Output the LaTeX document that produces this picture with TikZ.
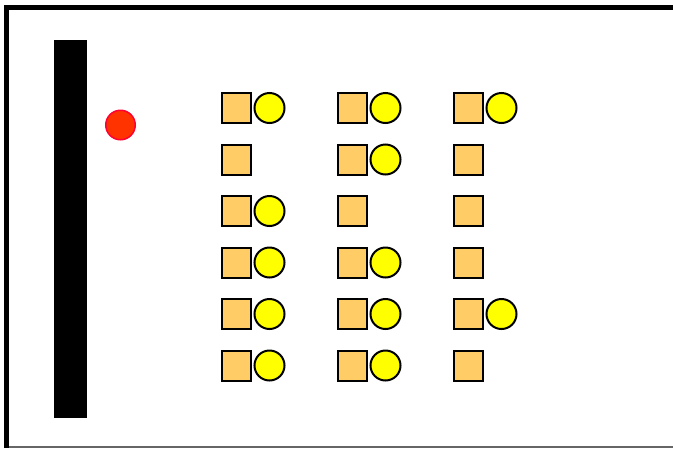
\documentclass[tikz,border=0pt]{standalone}
\definecolor{seat}{HTML}{FFCC66}
\definecolor{person}{HTML}{FFFF00}
\definecolor{teach}{HTML}{FF3300}
\definecolor{teachb}{HTML}{FF0033}
\tikzset{
  seatbox/.style={draw=black, fill=seat, line width=2pt, minimum width=29pt, minimum height=30pt, inner sep=0pt},
  pupil/.style={circle, draw=black, fill=person, line width=2pt, minimum size=30pt, inner sep=0pt},
  teacher/.style={circle, draw=teachb, fill=teach, line width=1.5pt, minimum size=29.5pt, inner sep=0pt},
  board/.style={fill=black, minimum width=33pt, minimum height=378pt, inner sep=0pt},
}
\begin{document}
\begin{tikzpicture}[x=1pt,y=-1pt]
\useasboundingbox (0,0) rectangle (673,448);
\fill[white] (0,0) rectangle (673,448);
% frame
\draw[line width=1.5pt, gray!80!black] (9,446.8) -- (673,446.8);
\draw[line width=5pt] (6.5,447.5) -- (6.5,7.5) -- (690,7.5);
% board
\node[board] (board) at (70.5,229) {};
% teacher
\node[teacher] (teacher) at (120.5,125) {};
% seats
\foreach \c/\x in {1/236.5, 2/352.5, 3/468.5}{
  \foreach \r/\y in {1/108, 2/159.5, 3/211, 4/262.5, 5/314, 6/365.5}{
    \node[seatbox] (s\r\c) at (\x,\y) {};
  }
}
% pupils
\foreach \r/\c in {1/1,1/2,1/3,2/2,3/1,4/1,4/2,5/1,5/2,5/3,6/1,6/2}{
  \node[pupil] (p\r\c) at ([xshift=33pt]s\r\c.center) {};
}
\end{tikzpicture}
\end{document}
